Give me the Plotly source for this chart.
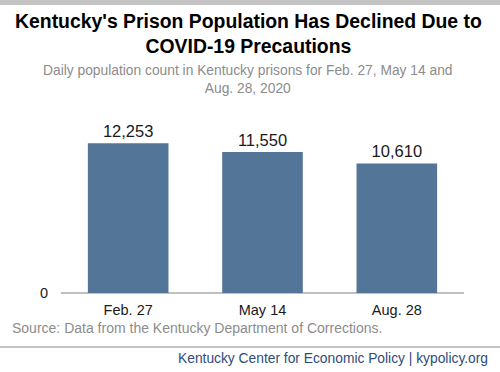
import plotly.graph_objects as go

categories = ["Feb. 27", "May 14", "Aug. 28"]
population = [12253, 11550, 10610]
value_labels = ["12,253", "11,550", "10,610"]

FONT = "Liberation Sans, Arial, sans-serif"

fig = go.Figure()
fig.add_trace(go.Bar(
    x=categories, y=population,
    text=value_labels, textposition="outside",
    textfont=dict(family=FONT, size=16.5, color="#1a1a1a"),
    marker=dict(color="#537598", line=dict(width=0)),
    cliponaxis=False,
    hoverinfo="skip",
))

W, H = 500, 372
L, R, T, B = 61, 36, 122, 79

fig.update_layout(
    width=W, height=H,
    margin=dict(l=L, r=R, t=T, b=B),
    paper_bgcolor="white", plot_bgcolor="white",
    bargap=0.4,
    showlegend=False,
    font=dict(family=FONT),
    xaxis=dict(showgrid=False, showline=False, zeroline=False, ticks="",
               ticklabelstandoff=6,
               tickfont=dict(family=FONT, size=14.5, color="#1a1a1a")),
    yaxis=dict(range=[0, 14000], showgrid=False, showline=False,
               zeroline=True, zerolinecolor="#c0c0c0", zerolinewidth=2,
               tickvals=[0], ticktext=["0"], ticks="",
               ticklabelstandoff=12,
               tickfont=dict(family=FONT, size=14.5, color="#1a1a1a")),
)

plot_h = H - T - B
def py(pix):
    return (H - B - pix) / plot_h
def px(pix):
    return (pix - L) / (W - L - R)

fig.layout.shapes = [
    dict(type="rect", xref="paper", yref="paper", x0=px(0), x1=px(W),
         y0=py(5), y1=py(0), fillcolor="#c4c4c4", line=dict(width=0)),
    dict(type="line", xref="paper", yref="paper", x0=px(0), x1=px(W),
         y0=py(347), y1=py(347), line=dict(color="#c4c4c4", width=2)),
]

annotations = [
    dict(text="<b>Kentucky's Prison Population Has Declined Due to<br>COVID-19 Precautions</b>",
         x=px(248), y=py(33), xanchor="center", yanchor="middle",
         font=dict(family=FONT, size=19.4, color="#000000")),
    dict(text="Daily population count in Kentucky prisons for Feb. 27, May 14 and<br>Aug. 28, 2020",
         x=px(248), y=py(80), xanchor="center", yanchor="middle",
         font=dict(family=FONT, size=13.8, color="#8c8c8c")),
    dict(text="Source: Data from the Kentucky Department of Corrections.",
         x=px(10), y=py(328), xanchor="left", yanchor="middle",
         font=dict(family=FONT, size=14, color="#8c8c8c")),
    dict(text="Kentucky Center for Economic Policy | kypolicy.org",
         x=px(490), y=py(358), xanchor="right", yanchor="middle",
         font=dict(family=FONT, size=13.8, color="#2e4b7c")),
]
for a in annotations:
    a.update(xref="paper", yref="paper", showarrow=False)
fig.update_layout(annotations=annotations)

fig.write_html("out.html", config={"displayModeBar": False},
               post_script="document.body.style.margin='0';document.body.style.overflow='hidden';")
